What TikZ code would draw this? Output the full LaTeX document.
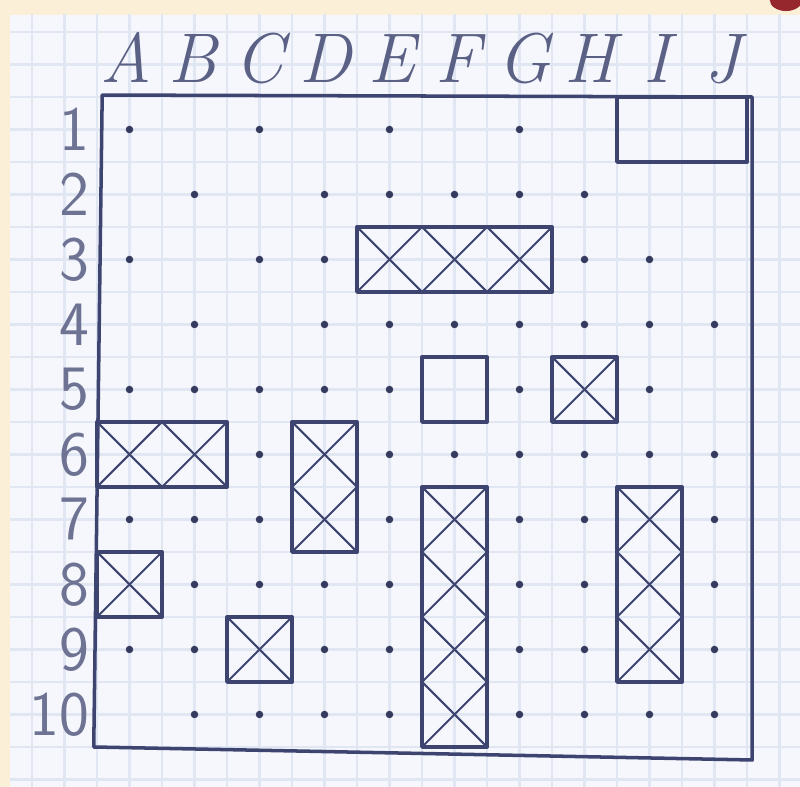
\documentclass[tikz,border=0pt]{standalone}
\usepackage{tikz}
\usepackage{xcolor}
\definecolor{inkblue}{RGB}{62, 68, 112}
\definecolor{paperwhite}{RGB}{245, 247, 252}
\definecolor{paperline}{RGB}{225, 231, 242}
\definecolor{creamedge}{RGB}{252, 239, 216}
\definecolor{redspot}{RGB}{150, 40, 45}

\tikzset{
  frameline/.style={line width=1pt, inkblue, line join=round},
  shipbox/.style={line width=1.1pt, inkblue, line join=round},
  hitmark/.style={line width=0.6pt, inkblue},
  shot/.style={circle, fill=inkblue!85!black, inner sep=0pt, minimum size=0.75mm},
  rule/.style={paperline, line width=0.6pt},
  collabel/.style={inkblue!85, anchor=base, font=\fontsize{20}{24}\selectfont\itshape},
  rowlabel/.style={inkblue!75, anchor=east, inner sep=0pt, font=\fontsize{18}{22}\selectfont\sffamily}
}

% ship from cell (c1,r1) to cell (c2,r2), every cell crossed
\newcommand{\hitship}[4]{%
  \draw[shipbox] (#1,#2) rectangle (#3+1,#4+1);
  \foreach \c in {#1,...,#3}
    \foreach \r in {#2,...,#4}
      \draw[hitmark] (\c,\r) -- (\c+1,\r+1) (\c+1,\r) -- (\c,\r+1);
}

\begin{document}
\begin{tikzpicture}[x=0.65cm, y=-0.65cm]
    \useasboundingbox (-1.4923,-1.4923) rectangle (10.8154,10.6154);

    % Paper
    \fill[creamedge] (-1.4923,-1.4923) rectangle (10.8154,10.6154);
    \fill[paperwhite] (-1.338,-1.262) rectangle (10.8154,10.6154);
    \begin{scope}
        \clip (-1.338,-1.262) rectangle (10.8154,10.6154);
        \foreach \g in {-1.5,-1,...,11}
            \draw[rule] (\g,-1.5) -- (\g,10.7);
        \foreach \g in {-1.5,-1,...,11}
            \draw[rule] (-1.5,\g) -- (10.9,\g);
    \end{scope}
    \fill[redspot] (10.6,-1.4923) ellipse (0.25 and 0.17);

    % Column and row labels
    \foreach \l [count=\i from 0] in {A,B,C,D,E,F,G,H,I,J}
        \node[collabel] (col-\l) at (\i+0.45+0.02*\i,-0.22) {\l};
    \foreach \r in {1,...,10}
        \node[rowlabel] (row-\r) at (-0.11,\r-0.5) {\r};

    % Board
    \draw[frameline] (0.08,-0.03) -- (10.08,0) -- (10.08,10.2) -- (-0.05,10.0) -- cycle;

    % Misses
    \foreach \c/\r in {0/0,2/0,4/0,6/0,
                       1/1,3/1,4/1,5/1,6/1,7/1,
                       0/2,2/2,3/2,7/2,8/2,
                       1/3,3/3,4/3,5/3,6/3,7/3,8/3,9/3,
                       0/4,1/4,2/4,3/4,4/4,6/4,8/4,
                       2/5,4/5,5/5,6/5,7/5,8/5,9/5,
                       0/6,1/6,2/6,4/6,6/6,7/6,9/6,
                       1/7,2/7,3/7,4/7,6/7,7/7,9/7,
                       0/8,1/8,3/8,4/8,6/8,7/8,9/8,
                       1/9,2/9,3/9,4/9,6/9,7/9,8/9,9/9}
        \node[shot] (miss-\c-\r) at (\c+0.5,\r+0.5) {};

    % Open ships
    \draw[shipbox] (8,0) rectangle (10,1);
    \draw[shipbox] (5,4) rectangle (6,5);

    % Hit ships
    \hitship{4}{2}{6}{2}
    \hitship{7}{4}{7}{4}
    \hitship{0}{5}{1}{5}
    \hitship{3}{5}{3}{6}
    \hitship{5}{6}{5}{9}
    \hitship{8}{6}{8}{8}
    \hitship{0}{7}{0}{7}
    \hitship{2}{8}{2}{8}
\end{tikzpicture}
\end{document}
